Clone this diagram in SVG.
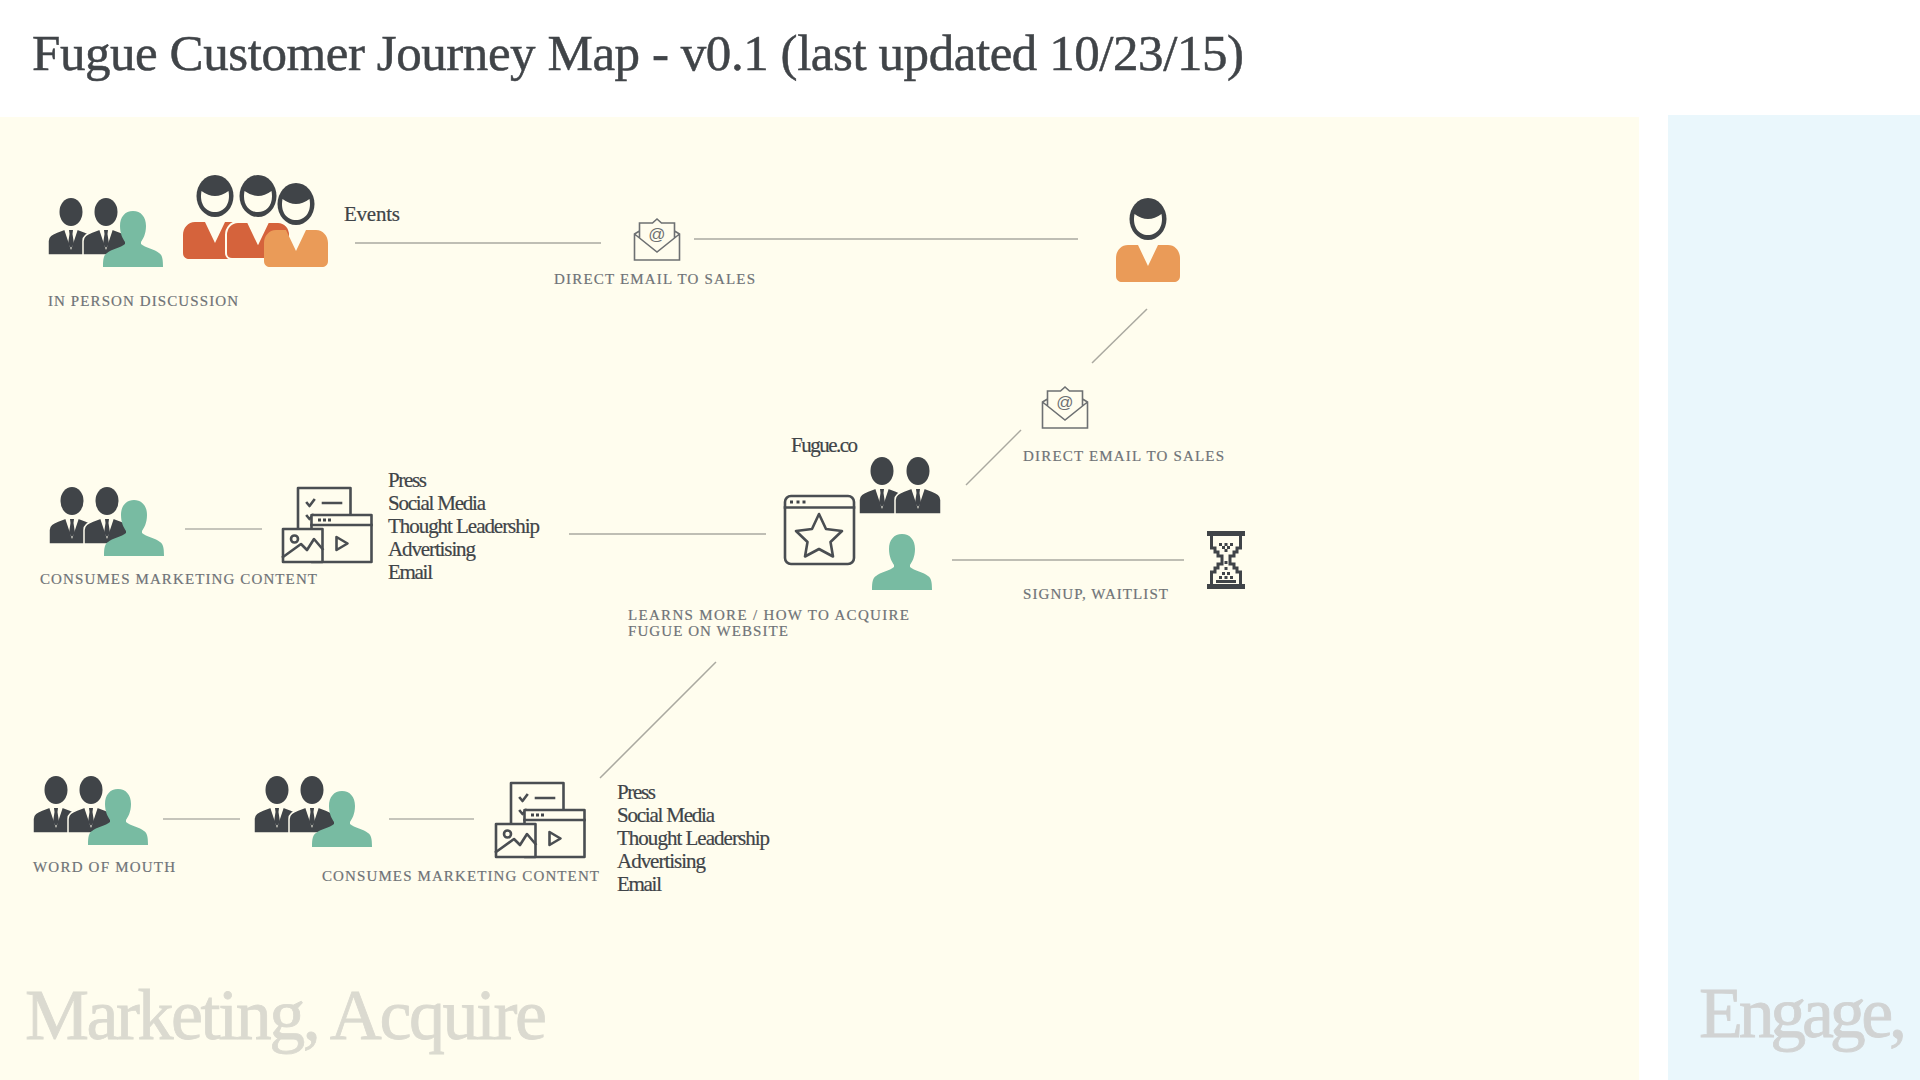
<svg xmlns="http://www.w3.org/2000/svg" xmlns:xlink="http://www.w3.org/1999/xlink" width="1920" height="1080" viewBox="0 0 1920 1080">
<style>
text{font-family:"Liberation Serif","Times New Roman",serif}
.title{font-size:51px;fill:#404448;stroke:#404448;stroke-width:.5px}
.cap{font-size:15px;fill:#6f7377;stroke:#6f7377;stroke-width:.2px}
.body{font-size:21px;fill:#404448;stroke:#404448;stroke-width:.2px}
.big{font-size:72px;stroke-width:.8px}
.ln{stroke:#aaa9a0;stroke-width:1.5;fill:none}
.ln2{stroke:#c6c5bb;stroke-width:2;fill:none}
.ic{fill:none;stroke:#4a4e52;stroke-width:2.6;stroke-linejoin:round;stroke-linecap:square}
.ml{fill:none;stroke:#6d7072;stroke-width:1.6;stroke-linejoin:miter}
.dk{fill:#404448}
.bg{fill:#FFFDEE}
</style>
<defs>
<symbol id="suit" overflow="visible">
<ellipse cx="23" cy="14" rx="11.500" ry="14" class="dk"/>
<path class="dk" stroke="#FFFDEE" stroke-width="1.5" d="M0 57V43C0 38 4 36 9 34L17 31H29L37 34C42 36 46 38 46 43V57Z"/>
<path class="bg" d="M16 31L23 52L30 31Z"/>
<path class="dk" d="M21 32H25L24.500 36L26 46L23 50L20 46L21.500 36Z"/>
</symbol>
<symbol id="green" overflow="visible">
<path fill="#78BBA2" d="M30 0C38 0 43 6 43 15C43 23 40 28 38 31V33C42 37 52 38 56 42C59 44 60 47 60 56H0C0 47 1 44 4 42C8 38 18 37 22 33V31C20 28 17 23 17 15C17 6 22 0 30 0Z"/>
</symbol>
<symbol id="trio" overflow="visible">
<use href="#suit"/><use href="#suit" x="35"/><use href="#green" x="55" y="13"/>
</symbol>
<symbol id="head" overflow="visible">
<ellipse cx="32" cy="21" rx="18.500" ry="21" class="dk"/>
<path class="bg" d="M18.500 16Q32 26 45.500 16C48 29 41 37 32 37C23 37 16 29 18.500 16Z"/>
</symbol>
<path id="torso" d="M12 47H22L32 68L42 47H52C59 47 64 53 64 60V78C64 82 61 84 58 84H6C3 84 0 82 0 78V60C0 53 5 47 12 47Z"/>
<symbol id="mail" overflow="visible">
<path class="ml" d="M5 12L0 15V41H45V15L40 12M0 15L22.500 33L45 15M5 19V4H18L22.500 0L27 4H40V19"/>
<text x="22.500" y="21" text-anchor="middle" style="font-family:'Liberation Sans',sans-serif;font-size:17px;fill:#6d7072">@</text>
</symbol>
<symbol id="media" overflow="visible">
<path class="ic" d="M15 41V0H67.500V27"/>
<path class="ic" d="M24 15L26.500 18L31 12M40 15H58M24 28L26.500 31L30 27"/>
<rect class="ic" x="28.500" y="27" width="60" height="47" style="fill:#FFFDEE"/>
<path class="ic" d="M28.500 37H88.500"/>
<path d="M35 30.500h3v3h-3zM40 30.500h3v3h-3zM45 30.500h3v3h-3z" class="dk"/>
<rect class="ic" x="0" y="41" width="39.500" height="33" style="fill:#FFFDEE"/>
<circle class="ic" cx="11.500" cy="51" r="3.500"/>
<path class="ic" d="M0 69L18 56L24 62L31 51L39.500 61"/>
<path class="ic" d="M53.500 49V62L64.500 55.500Z"/>
</symbol>
</defs>

<rect width="1920" height="1080" fill="#ffffff"/>
<rect x="0" y="117" width="1639" height="963" fill="#FFFDEE"/>
<rect x="1668" y="115" width="252" height="965" fill="#EAF7FC"/>
<text id="title" class="title" x="32" y="70" textLength="1212">Fugue Customer Journey Map - v0.1 (last updated 10/23/15)</text>

<g id="connectors">
<path class="ln" d="M355 243H601"/>
<path class="ln" d="M694 239H1078"/>
<path class="ln" d="M1147 309L1092 363"/>
<path class="ln" d="M1021 430L966 485"/>
<path class="ln" d="M952 560H1184"/>
<path class="ln2" d="M185 529H262"/>
<path class="ln" d="M569 534H766"/>
<path class="ln2" d="M163 819H240"/>
<path class="ln2" d="M389 819H474"/>
<path class="ln" d="M716 662L600 778"/>
</g>

<g id="in-person">
<use href="#trio" x="48" y="198"/>
<text class="cap" x="48" y="305.500" textLength="190">IN PERSON DISCUSSION</text>
</g>
<g id="events">
<use href="#head" x="183" y="175"/><use href="#torso" x="183" y="175" fill="#D5633C"/>
<use href="#head" x="226" y="175"/><use href="#torso" x="226" y="175" fill="#D5633C" stroke="#FFFDEE" stroke-width="2"/>
<use href="#head" x="264" y="183"/><use href="#torso" x="264" y="183" fill="#EA9B58"/>
<text class="body" x="344" y="221" textLength="56">Events</text>
</g>
<g id="email-1">
<use href="#mail" x="634.500" y="219"/>
<text class="cap" x="554" y="284" textLength="201">DIRECT EMAIL TO SALES</text>
</g>
<g id="sales">
<use href="#head" x="1116" y="198"/><use href="#torso" x="1116" y="198" fill="#EA9B58"/>
</g>
<g id="email-2">
<use href="#mail" x="1042.500" y="387"/>
<text class="cap" x="1023" y="461" textLength="201">DIRECT EMAIL TO SALES</text>
</g>

<g id="consumes-1">
<use href="#trio" x="49" y="487"/>
<use href="#media" x="283" y="488"/>
<text class="cap" x="40" y="584" textLength="277">CONSUMES MARKETING CONTENT</text>
<text class="body" x="388" y="486.500" textLength="39">Press</text>
<text class="body" x="388" y="510" textLength="98">Social Media</text>
<text class="body" x="388" y="533" textLength="152">Thought Leadership</text>
<text class="body" x="388" y="556" textLength="88">Advertising</text>
<text class="body" x="388" y="579" textLength="45">Email</text>
</g>

<g id="website">
<text class="body" x="791" y="452" textLength="67">Fugue.co</text>
<rect class="ic" x="785" y="496" width="69" height="68" rx="6"/>
<path class="ic" d="M785 507.500H854"/>
<path class="dk" d="M790 500.500h3v3h-3zM796.500 500.500h3v3h-3zM802.500 500.500h3v3h-3z"/>
<path class="ic" d="M819 514L826 529L842 531L830.500 542L833 556.500L819 549L805 556.500L807.500 542L796 531L812 529Z"/>
<use href="#suit" x="859" y="457"/><use href="#suit" x="895" y="457"/>
<use href="#green" x="872" y="534"/>
<text class="cap" x="628" y="619.500" textLength="281">LEARNS MORE / HOW TO ACQUIRE</text>
<text class="cap" x="628" y="635.500" textLength="160">FUGUE ON WEBSITE</text>
</g>

<g id="waitlist">
<text class="cap" x="1023" y="598.500" textLength="145">SIGNUP, WAITLIST</text>
<g transform="translate(1207 531)">
<path class="dk" d="M0 0H38V5H0ZM0 53H38V58H0Z"/>
<path fill="none" stroke="#404448" stroke-width="3" d="M4.500 5V17H8V21H11V25H15V33H11V37H8V41H4.500V53M33.500 5V17H30V21H27V25H23V33H27V37H30V41H33.500V53"/>
<path class="dk" d="M12 12h3v3h-3zM17.500 12h3v3h-3zM23 12h3v3h-3zM15 15h3v3h-3zM20 15h3v3h-3zM17.500 18h3v3h-3zM17.500 30h3v3h-3zM17.500 36h3v3h-3zM15 41h3v3h-3zM20 41h3v3h-3zM12 45h3v3h-3zM17.500 45h3v3h-3zM23 45h3v3h-3zM9 49h20v3h-20z"/>
</g>
</g>

<g id="word-of-mouth">
<use href="#trio" x="33" y="776"/>
<text class="cap" x="33" y="872" textLength="142">WORD OF MOUTH</text>
</g>
<g id="consumes-2">
<use href="#suit" x="254" y="776"/><use href="#suit" x="289" y="776"/><use href="#green" x="312" y="791"/>
<use href="#media" x="496" y="783"/>
<text class="cap" x="322" y="881" textLength="277">CONSUMES MARKETING CONTENT</text>
<text class="body" x="617" y="798.500" textLength="39">Press</text>
<text class="body" x="617" y="821.500" textLength="98">Social Media</text>
<text class="body" x="617" y="845" textLength="153">Thought Leadership</text>
<text class="body" x="617" y="868" textLength="89">Advertising</text>
<text class="body" x="617" y="891" textLength="45">Email</text>
</g>

<text id="marketing" class="big" x="25" y="1039" fill="#DBDAD0" stroke="#DBDAD0" textLength="522">Marketing, Acquire</text>
<text id="engage" class="big" x="1699" y="1037" fill="#D1D3D3" stroke="#D1D3D3" textLength="208">Engage,</text>
</svg>
